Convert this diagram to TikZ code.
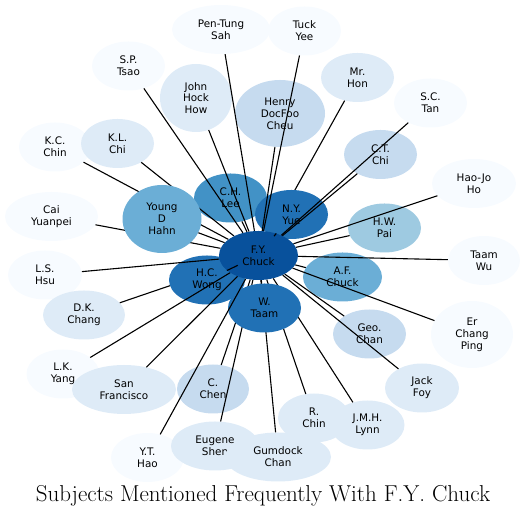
\documentclass[tikz,border=0pt]{standalone}
\usepackage{fontspec}
\newfontfamily\subjsans{DejaVu Sans}
\usetikzlibrary{shapes.geometric}
\definecolor{blues0}{HTML}{F7FBFF}
\definecolor{blues1}{HTML}{DEEBF7}
\definecolor{blues2}{HTML}{C6DBEF}
\definecolor{blues3}{HTML}{9ECAE1}
\definecolor{blues4}{HTML}{6BAED6}
\definecolor{blues5}{HTML}{4292C6}
\definecolor{blues6}{HTML}{2171B5}
\definecolor{blues7}{HTML}{08519C}
\pgfdeclarelayer{front}
\pgfdeclarelayer{top}
\pgfsetlayers{main,front,top}

\begin{document}
\begin{tikzpicture}[x=1pt,y=1pt,
  subject/.style={ellipse, inner sep=0pt, align=center, minimum width=73pt, minimum height=49pt,
    font=\subjsans\fontsize{10.4}{11.8}\selectfont},
  tall/.style={minimum height=68pt},
  link/.style={line width=1.1pt}]
  \useasboundingbox (0,0) rectangle (525,518);

  \node[subject, fill=blues0, minimum width=98pt] (sah) at (221,488.5) {Pen-Tung\\Sah};
  \node[subject, fill=blues0] (tuck) at (304.5,487) {Tuck\\Yee};
  \node[subject, fill=blues0] (tsao) at (128.5,452) {S.P.\\Tsao};
  \node[subject, tall, fill=blues1, minimum width=72pt] (john) at (196,420) {John\\Hock\\How};
  \node[subject, tall, fill=blues2, minimum width=90pt, minimum height=67pt] (henry) at (280,404.5) {Henry\\DocFoo\\Cheu};
  \node[subject, fill=blues1] (hon) at (357.5,440.5) {Mr.\\Hon};
  \node[subject, fill=blues0] (sctan) at (430.5,415) {S.C.\\Tan};
  \node[subject, fill=blues2] (ctchi) at (380.5,363.5) {C.T.\\Chi};
  \node[subject, fill=blues0, minimum width=72pt] (kcchin) at (55,371) {K.C.\\Chin};
  \node[subject, fill=blues1] (klchi) at (117.5,374.5) {K.L.\\Chi};
  \node[subject, fill=blues5] (chlee) at (230.5,320) {C.H.\\Lee};
  \node[subject, fill=blues0, minimum width=84pt] (haojo) at (474,334.5) {Hao-Jo\\Ho};
  \node[subject, fill=blues3] (pai) at (384.5,290) {H.W.\\Pai};
  \node[subject, fill=blues0, minimum width=93pt] (cai) at (51.5,301.5) {Cai\\Yuanpei};
  \node[subject, fill=blues0, minimum width=74pt] (lshsu) at (45,243) {L.S.\\Hsu};
  \node[subject, fill=blues0, minimum width=72pt] (taamwu) at (484,257.5) {Taam\\Wu};
  \node[subject, fill=blues4, minimum width=79pt] (afchuck) at (342.5,241) {A.F.\\Chuck};
  \node[subject, fill=blues1, minimum width=82pt] (dkchang) at (84,203) {D.K.\\Chang};
  \node[subject, fill=blues2] (geochan) at (369.5,184) {Geo.\\Chan};
  \node[subject, tall, fill=blues0, minimum width=82pt, minimum height=67pt] (erchang) at (472,183.5) {Er\\Chang\\Ping};
  \node[subject, fill=blues0] (lkyang) at (63,144) {L.K.\\Yang};
  \node[subject, fill=blues1, minimum width=104pt] (sanfran) at (124,128.5) {San\\Francisco};
  \node[subject, fill=blues2, minimum width=72pt] (cchen) at (213,129) {C.\\Chen};
  \node[subject, fill=blues1, minimum width=74pt] (jackfoy) at (422,130) {Jack\\Foy};
  \node[subject, fill=blues0] (ythao) at (147.5,60.5) {Y.T.\\Hao};
  \node[subject, fill=blues1, minimum width=88pt] (eugene) at (215,72) {Eugene\\Shen};
  \node[subject, fill=blues1, minimum width=106pt] (gumdock) at (278,61) {Gumdock\\Chan};
  \node[subject, fill=blues1, minimum width=72pt] (rchin) at (314,100) {R.\\Chin};
  \node[subject, fill=blues1, minimum width=74pt] (lynn) at (367.5,93) {J.M.H.\\Lynn};

  \begin{pgfonlayer}{front}
    \node[subject, tall, fill=blues4, minimum width=79pt] (hahn) at (162,299) {Young\\D\\Hahn};
    \node[subject, fill=blues6] (yue) at (291.5,303.5) {N.Y.\\Yue};
    \node[subject, fill=blues6, minimum width=76pt] (wong) at (207,238) {H.C.\\Wong};
    \node[subject, fill=blues6] (wtaam) at (264.5,210) {W.\\Taam};
    \node[subject, fill=blues7, minimum width=79pt] (fychuck) at (258.5,262.5) {F.Y.\\Chuck};
  \end{pgfonlayer}

  \foreach \n in {kcchin,klchi,cai,dkchang,hon,cchen,eugene,gumdock,rchin,lynn}
    \draw[link] (fychuck) -- (\n);

  \begin{pgfonlayer}{top}
    \foreach \n in {sah,tuck,tsao,john,henry,sctan,ctchi,chlee,haojo,pai,lshsu,taamwu,
                    afchuck,geochan,erchang,lkyang,sanfran,jackfoy,ythao,hahn,yue,wong,wtaam}
      \draw[link] (fychuck) -- (\n);
  \end{pgfonlayer}

  \node[anchor=base, font=\fontsize{23}{27}\selectfont] (title) at (263,16)
    {Subjects Mentioned Frequently With F.Y. Chuck};
\end{tikzpicture}
\end{document}
